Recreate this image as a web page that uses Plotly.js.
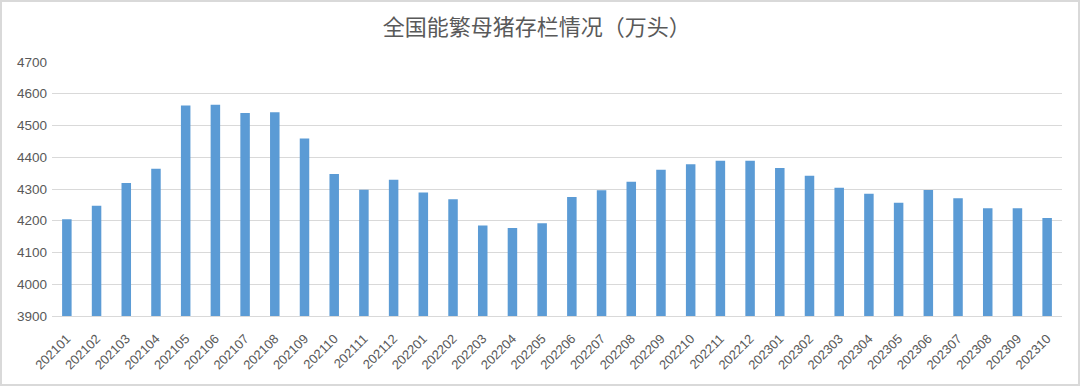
<!DOCTYPE html>
<html>
<head>
<meta charset="utf-8">
<script src="https://cdn.plot.ly/plotly-3.0.1.min.js"></script>
<style>
html,body{margin:0;padding:0;background:#fff;}
#wrap{position:relative;width:1080px;height:386px;}
#chart{position:absolute;left:0;top:0;width:1080px;height:386px;}
#frame{position:absolute;left:0;top:0;width:1080px;height:386px;box-sizing:border-box;border:2px solid #d9d9d9;pointer-events:none;}
</style>
</head>
<body>
<div id="wrap"><div id="chart"></div><div id="frame"></div></div>
<script>
const months = ["202101","202102","202103","202104","202105","202106","202107","202108","202109","202110","202111","202112",
"202201","202202","202203","202204","202205","202206","202207","202208","202209","202210","202211","202212",
"202301","202302","202303","202304","202305","202306","202307","202308","202309","202310"];
const sows = [4205,4247,4319,4364,4563,4565,4539,4542,4459,4347,4298,4329,
4289,4268,4185,4177,4192,4275,4296,4323,4361,4378,4389,4389,
4366,4342,4304,4285,4257,4297,4271,4239,4239,4209];
const titleText = "全国能繁母猪存栏情况（万头）";
const yTicks = [3900,4000,4100,4200,4300,4400,4500,4600,4700];

const trace = {
  type: "bar",
  x: months,
  y: sows,
  marker: {color: "#5b9bd5"},
  hoverinfo: "x+y"
};
const layout = {
  width: 1080, height: 386,
  margin: {l: 52, r: 18, t: 62, b: 70},
  paper_bgcolor: "rgba(0,0,0,0)",
  plot_bgcolor: "#fff",
  bargap: 0.68,
  showlegend: false,
  title: {text: titleText, x: 0.497, xref: "container", xanchor: "center", y: 0.93, yanchor: "middle",
          font: {family: "Noto Sans CJK SC", size: 22, color: "#595959"}},
  xaxis: {type: "category", tickangle: -45, showgrid: false, zeroline: false,
          showline: true, linecolor: "#d9d9d9", linewidth: 1, ticks: "",
          ticklabelstandoff: 9,
          tickfont: {family: "Liberation Sans", size: 13, color: "#595959"}},
  yaxis: {range: [3900, 4700], tickvals: yTicks, ticktext: yTicks.map(String),
          showgrid: true, gridcolor: "#d9d9d9", gridwidth: 1, zeroline: false,
          showline: false, ticks: "", ticklabelstandoff: 4,
          tickfont: {family: "Liberation Sans", size: 13.5, color: "#595959"}}
};
Plotly.newPlot("chart", [trace], layout, {displayModeBar: false, staticPlot: true});
</script>
</body>
</html>
